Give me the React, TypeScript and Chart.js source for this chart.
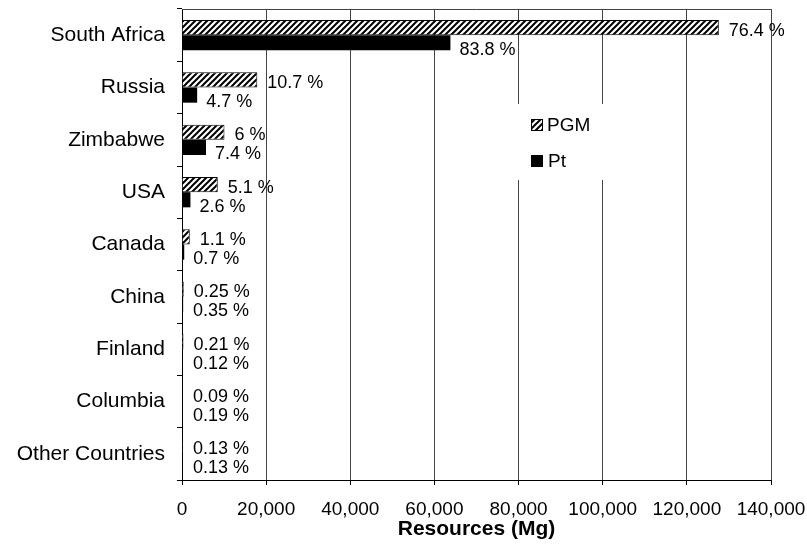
import React, { useEffect, useRef } from "react";
import { Chart, registerables } from "chart.js";

Chart.register(...registerables);

const categories = ["South Africa", "Russia", "Zimbabwe", "USA", "Canada", "China", "Finland", "Columbia", "Other Countries"];
const pgmValues = [127600, 17900, 10100, 8500, 1850, 420, 350, 150, 220];
const ptValues = [63800, 3600, 5700, 2000, 530, 270, 90, 145, 100];
const pgmLabels = ["76.4 %", "10.7 %", "6 %", "5.1 %", "1.1 %", "0.25 %", "0.21 %", "0.09 %", "0.13 %"];
const ptLabels = ["83.8 %", "4.7 %", "7.4 %", "2.6 %", "0.7 %", "0.35 %", "0.12 %", "0.19 %", "0.13 %"];
const xMin = 0;
const xMax = 140000;
const xStep = 20000;
const axisTitle = "Resources (Mg)";
const seriesNames = ["PGM", "Pt"];

const FONT = "'Liberation Sans', Arial, Helvetica, sans-serif";

function makeHatch(): CanvasPattern | string {
  const c = document.createElement("canvas");
  const s = 6;
  c.width = s;
  c.height = s;
  const g = c.getContext("2d");
  if (!g) return "#fff";
  g.fillStyle = "#fff";
  g.fillRect(0, 0, s, s);
  g.strokeStyle = "#000";
  g.lineWidth = 2;
  g.beginPath();
  g.moveTo(-1, s + 1);
  g.lineTo(s + 1, -1);
  g.moveTo(-1, 1);
  g.lineTo(1, -1);
  g.moveTo(s - 1, s + 1);
  g.lineTo(s + 1, s - 1);
  g.stroke();
  const p = g.createPattern(c, "repeat");
  return p || "#fff";
}

export default function App() {
  const ref = useRef<HTMLCanvasElement | null>(null);

  useEffect(() => {
    const canvas = ref.current;
    if (!canvas) return;
    const hatch = makeHatch();

    const labelPlugin = {
      id: "barLabels",
      afterDatasetsDraw(chart: any) {
        const ctx = chart.ctx;
        const xs = chart.scales.x;
        const minX = xs.getPixelForValue(0) + 11;
        ctx.save();
        ctx.font = `18px ${FONT}`;
        ctx.fillStyle = "#000";
        ctx.textAlign = "left";
        ctx.textBaseline = "middle";
        const sets = [
          { labels: pgmLabels, off: 10, dy: 3 },
          { labels: ptLabels, off: 9, dy: 7 },
        ];
        sets.forEach((s, di) => {
          const meta = chart.getDatasetMeta(di);
          meta.data.forEach((el: any, i: number) => {
            const x = Math.max(el.x + s.off, minX);
            ctx.fillText(s.labels[i], x, el.y + s.dy);
          });
        });
        ctx.restore();
      },
      afterDraw(chart: any) {
        const ctx = chart.ctx;
        const a = chart.chartArea;
        ctx.save();
        ctx.strokeStyle = "#444";
        ctx.lineWidth = 1;
        ctx.beginPath();
        ctx.moveTo(a.left, a.top + 0.5);
        ctx.lineTo(a.right, a.top + 0.5);
        ctx.stroke();
        // legend
        const lx = 515;
        const ly = 104;
        ctx.fillStyle = "#fff";
        ctx.fillRect(lx, ly, 92, 76);
        ctx.fillStyle = hatch as any;
        ctx.fillRect(531.5, 119.5, 11, 11);
        ctx.strokeStyle = "#000";
        ctx.strokeRect(531.5, 119.5, 11, 11);
        ctx.fillStyle = "#000";
        ctx.fillRect(531, 155, 12, 12);
        ctx.font = `19px ${FONT}`;
        ctx.textAlign = "left";
        ctx.textBaseline = "middle";
        ctx.fillText(seriesNames[0], 547, 126);
        ctx.fillText(seriesNames[1], 548, 162);
        ctx.restore();
      },
    };

    const chart = new Chart(canvas, {
      type: "bar",
      data: {
        labels: categories,
        datasets: [
          {
            label: seriesNames[0],
            data: pgmValues,
            backgroundColor: hatch as any,
            borderColor: "#000",
            borderWidth: 1,
            categoryPercentage: 0.58,
            barPercentage: 1,
          },
          {
            label: seriesNames[1],
            data: ptValues,
            backgroundColor: "#000",
            borderColor: "#000",
            borderWidth: 0,
            categoryPercentage: 0.58,
            barPercentage: 1,
          },
        ],
      },
      options: {
        indexAxis: "y",
        animation: false,
        responsive: false,
        layout: { padding: { top: 9, right: 36, left: 0, bottom: 0 } },
        plugins: {
          legend: { display: false },
          tooltip: { enabled: false },
        },
        scales: {
          x: {
            min: xMin,
            max: xMax,
            ticks: {
              stepSize: xStep,
              color: "#000",
              font: { family: FONT, size: 19 },
              padding: 13,
              maxRotation: 0,
              callback: (v: any) => Number(v).toLocaleString("en-US"),
            },
            grid: { color: "#444", lineWidth: 1, tickLength: 5, tickColor: "#000" },
            border: { color: "#000", width: 1 },
            title: {
              display: true,
              text: axisTitle,
              color: "#000",
              font: { family: FONT, size: 21, weight: "bold" },
              padding: { top: 0, bottom: 8 },
            },
            afterFit: (scale: any) => {
              scale.height = 70;
              scale.paddingLeft = 0;
              scale.paddingRight = 0;
              scale.paddingTop = 0;
              scale.paddingBottom = 0;
            },
          },
          y: {
            ticks: {
              color: "#000",
              font: { family: FONT, size: 21 },
              padding: 12,
            },
            grid: { drawOnChartArea: false, drawTicks: true, tickLength: 5, color: "#000" },
            border: { color: "#000", width: 1 },
            afterFit: (scale: any) => {
              scale.width = 182;
              scale.paddingLeft = 0;
              scale.paddingRight = 0;
              scale.paddingTop = 0;
              scale.paddingBottom = 0;
            },
          },
        },
      },
      plugins: [labelPlugin],
    } as any);

    return () => chart.destroy();
  }, []);

  return (
    <div style={{ position: "absolute", left: 0, top: 0, width: 807, height: 550, background: "#fff" }}>
      <canvas ref={ref} width={807} height={550} />
    </div>
  );
}
